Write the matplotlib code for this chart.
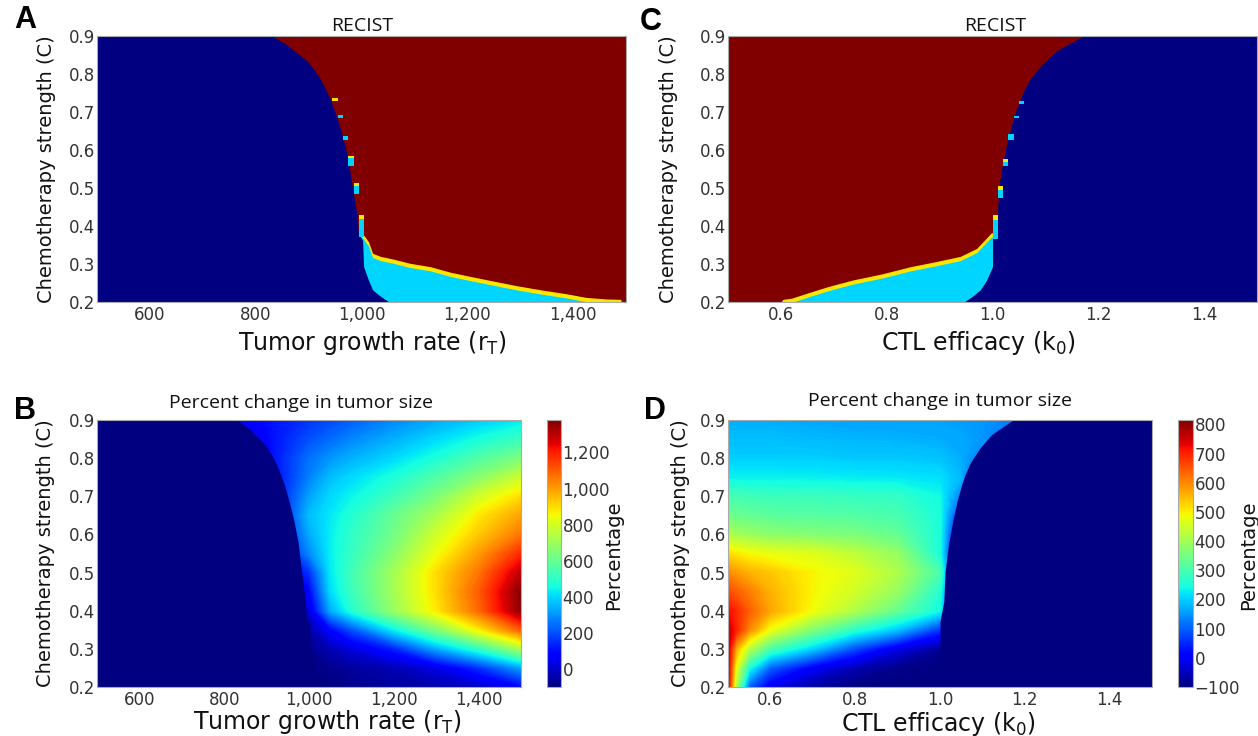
import numpy as np
import matplotlib
matplotlib.use('Agg')
import matplotlib.pyplot as plt
from matplotlib.colors import Normalize
from matplotlib.cm import ScalarMappable
from matplotlib.ticker import FuncFormatter

plt.rcParams['font.family'] = 'DejaVu Sans'
plt.rcParams['mathtext.fontset'] = 'dejavusans'

# =============================================================================
# DATA
# =============================================================================

# RECIST classes: 0 = CR, 1 = PR, 2 = SD, 3 = PD  (coloured with jet)
recist_classes = ['CR', 'PR', 'SD', 'PD']

# --- panel A: tumor growth rate r_T ---
a_r_range = [500, 1500]
c_range = [0.2, 0.9]
# edge of the CR (eliminated) region, CR for r below the edge
a_cr_c = [0.2, 0.215, 0.232, 0.258, 0.293, 0.363, 0.381, 0.433, 0.507, 0.581,
          0.643, 0.695, 0.730, 0.760, 0.787, 0.808, 0.835, 0.861, 0.878, 0.9]
a_cr_r = [1052, 1036, 1021, 1013, 1004, 1002, 994, 991, 982, 974,
          963, 951, 942, 932, 922, 912, 897, 873, 858, 831]
# upper edge of the SD band (PD above it)
a_pd_r = [995, 1002, 1013, 1021, 1036, 1060, 1091, 1130, 1169, 1207,
          1246, 1293, 1339, 1386, 1425, 1464, 1490, 1491]
a_pd_c = [0.385, 0.38, 0.359, 0.328, 0.32, 0.313, 0.302, 0.293, 0.278, 0.267,
          0.256, 0.243, 0.232, 0.222, 0.212, 0.208, 0.207, 0.2]
# isolated cells along the CR edge
a_spk_r = [945, 955, 965, 975, 975, 985, 985, 995, 995]
a_spk_c0 = [0.729, 0.685, 0.627, 0.578, 0.557, 0.505, 0.484, 0.418, 0.370]
a_spk_c1 = [0.736, 0.692, 0.638, 0.585, 0.578, 0.512, 0.505, 0.430, 0.418]
a_spk_cls = [2, 1, 1, 2, 1, 2, 1, 2, 1]

# --- panel C: CTL efficacy k_0 ---
c_k_range = [0.5, 1.5]
c_cr_c = [0.2, 0.215, 0.232, 0.258, 0.293, 0.372, 0.424, 0.503, 0.573, 0.634,
          0.686, 0.730, 0.756, 0.787, 0.826, 0.861, 0.891, 0.9]
c_cr_k = [0.946, 0.962, 0.977, 0.989, 1.0, 1.0, 1.009, 1.012, 1.020, 1.030,
          1.040, 1.051, 1.059, 1.071, 1.094, 1.121, 1.16, 1.172]
c_pd_k = [0.600, 0.604, 0.62, 0.651, 0.69, 0.736, 0.791, 0.845, 0.892, 0.939,
          0.97, 0.985, 0.997, 1.005]
c_pd_c = [0.2, 0.207, 0.21, 0.224, 0.241, 0.258, 0.274, 0.293, 0.306, 0.32,
          0.341, 0.363, 0.381, 0.385]
c_spk_k = [1.050, 1.040, 1.030, 1.020, 1.020, 1.010, 1.010, 1.000, 1.000]
c_spk_c0 = [0.722, 0.684, 0.627, 0.569, 0.557, 0.496, 0.473, 0.415, 0.367]
c_spk_c1 = [0.729, 0.690, 0.641, 0.577, 0.569, 0.506, 0.496, 0.430, 0.415]
c_spk_cls = [1, 1, 1, 2, 1, 2, 1, 2, 1]

# --- panel B: percent change, rows = C, columns = r_T ---
b_r = [500, 800, 900, 1000, 1050, 1100, 1200, 1300, 1400, 1500]
b_c = [0.2, 0.25, 0.3, 0.35, 0.4, 0.45, 0.5, 0.55, 0.6, 0.65, 0.7, 0.75, 0.8, 0.85, 0.9]
b_pct = [
    [-100, -100, -100, -100, -95, -80, -60, -40, -10, 80],
    [-100, -100, -100, -95, -80, -60, -30, 30, 150, 320],
    [-100, -100, -100, -80, -30, 20, 130, 330, 500, 720],
    [-100, -100, -100, -50, 80, 200, 430, 640, 870, 1100],
    [-100, -100, -60, 20, 330, 480, 690, 880, 1080, 1360],
    [-100, -100, -40, 80, 400, 520, 710, 900, 1100, 1370],
    [-100, -100, -20, 150, 420, 530, 710, 900, 1060, 1300],
    [-100, -80, -20, 280, 430, 510, 660, 840, 1000, 1180],
    [-100, -60, 0, 330, 430, 500, 620, 790, 930, 1060],
    [-100, -40, 20, 360, 420, 480, 600, 720, 880, 990],
    [-100, -20, 40, 320, 400, 440, 530, 640, 790, 900],
    [-100, -20, 60, 270, 360, 400, 470, 560, 660, 780],
    [-100, 0, 80, 250, 300, 340, 400, 470, 560, 640],
    [-100, 20, 90, 200, 240, 280, 340, 400, 460, 520],
    [-100, 40, 100, 160, 190, 220, 280, 330, 380, 420],
]
b_cbar_range = [-100, 1380]
b_cbar_ticks = [0, 200, 400, 600, 800, 1000, 1200]

# --- panel D: percent change, rows = C, columns = k_0 ---
d_k = [0.5, 0.52, 0.55, 0.6, 0.7, 0.8, 0.9, 1.0, 1.05, 1.1, 1.2, 1.5]
d_c = b_c
d_pct = [
    [760, 400, 100, -10, -70, -100, -100, -100, -100, -100, -100, -100],
    [760, 470, 250, 100, 0, -60, -90, -100, -100, -100, -100, -100],
    [760, 560, 420, 300, 200, 80, -20, -80, -100, -100, -100, -100],
    [760, 700, 600, 480, 360, 265, 190, 60, -100, -100, -100, -100],
    [720, 690, 640, 570, 485, 412, 330, 240, -100, -100, -100, -100],
    [660, 640, 610, 560, 495, 450, 385, 260, -100, -100, -100, -100],
    [600, 580, 560, 540, 495, 467, 412, 300, -100, -100, -100, -100],
    [520, 505, 490, 475, 467, 430, 385, 250, -100, -100, -100, -100],
    [410, 400, 390, 375, 365, 357, 330, 250, -50, -100, -100, -100],
    [340, 335, 330, 320, 315, 310, 300, 250, 30, -100, -100, -100],
    [300, 295, 290, 285, 285, 280, 275, 240, 120, -100, -100, -100],
    [230, 230, 230, 230, 228, 225, 222, 215, 180, -100, -100, -100],
    [200, 200, 200, 200, 200, 195, 195, 190, 170, 120, -100, -100],
    [185, 185, 185, 185, 180, 178, 175, 170, 165, 150, 50, -100],
    [170, 170, 170, 170, 165, 160, 160, 160, 155, 150, 120, -100],
]
d_cbar_range = [-100, 815]
d_cbar_ticks = [-100, 0, 100, 200, 300, 400, 500, 600, 700, 800]

r_ticks = [600, 800, 1000, 1200, 1400]
k_ticks = [0.6, 0.8, 1.0, 1.2, 1.4]
c_ticks = [0.2, 0.3, 0.4, 0.5, 0.6, 0.7, 0.8, 0.9]

# =============================================================================
# FIGURE
# =============================================================================

W, H = 1258, 736
fig = plt.figure(figsize=(W / 100, H / 100), dpi=100)
jet = plt.get_cmap('jet')
cls_color = [jet(i / 3) for i in range(4)]
tick_color = '#333333'
spine_color = '#aaaaaa'


def px_axes(left, top, right, bottom):
    return fig.add_axes([left / W, 1 - bottom / H, (right - left) / W, (bottom - top) / H])


def px_text(x, y, s, **kw):
    fig.text(x / W, 1 - y / H, s, ha='center', va='center', **kw)


comma_fmt = FuncFormatter(lambda v, p: f'{v:,.0f}'.replace('-', '\u2212'))
dec_fmt = FuncFormatter(lambda v, p: f'{v:.1f}')


def style(ax, xticks, xfmt, xlim):
    ax.set_xlim(*xlim)
    ax.set_ylim(*c_range)
    ax.set_xticks(xticks)
    ax.set_yticks(c_ticks)
    ax.xaxis.set_major_formatter(xfmt)
    ax.yaxis.set_major_formatter(dec_fmt)
    ax.tick_params(length=0, labelsize=12, colors=tick_color)
    ax.tick_params(axis='x', pad=3)
    ax.tick_params(axis='y', pad=1.5)
    for s in ax.spines.values():
        s.set_color(spine_color)
        s.set_linewidth(0.8)


def speckles(ax, x, c0, c1, cls, width):
    ax.bar(x, np.array(c1) - np.array(c0), width=width, bottom=c0, align='edge',
           color=[cls_color[c] for c in cls], linewidth=0, zorder=3)


band = 0.011

# ---------------- A ----------------
axA = px_axes(97, 36, 626, 302)
axA.set_facecolor(cls_color[3])
axA.fill_between(a_pd_r, c_range[0], a_pd_c, color=cls_color[2], lw=0)
axA.fill_between(a_pd_r, c_range[0], np.array(a_pd_c) - band, color=cls_color[1], lw=0)
axA.fill_betweenx(a_cr_c, a_r_range[0], a_cr_r, color=cls_color[0], lw=0)
speckles(axA, a_spk_r, a_spk_c0, a_spk_c1, a_spk_cls, 10)
style(axA, r_ticks, comma_fmt, a_r_range)

# ---------------- C ----------------
axC = px_axes(728, 36, 1257, 302)
axC.set_facecolor(cls_color[3])
axC.fill_between(c_pd_k, c_range[0], c_pd_c, color=cls_color[2], lw=0)
axC.fill_between(c_pd_k, c_range[0], np.array(c_pd_c) - band, color=cls_color[1], lw=0)
axC.fill_betweenx(c_cr_c, c_cr_k, c_k_range[1], color=cls_color[0], lw=0)
speckles(axC, c_spk_k, c_spk_c0, c_spk_c1, c_spk_cls, 0.01)
style(axC, k_ticks, dec_fmt, c_k_range)

# ---------------- B ----------------
axB = px_axes(97, 420, 521, 687)
normB = Normalize(*b_cbar_range)
axB.contourf(b_r, b_c, b_pct, levels=np.linspace(b_cbar_range[0], b_cbar_range[1], 300),
             cmap=jet, norm=normB, extend='both', antialiased=False)
axB.fill_betweenx(a_cr_c, a_r_range[0], a_cr_r, color=cls_color[0], lw=0)
style(axB, r_ticks, comma_fmt, a_r_range)

caxB = px_axes(547, 420, 561, 687)
cbB = fig.colorbar(ScalarMappable(norm=normB, cmap=jet), cax=caxB)
cbB.set_ticks(b_cbar_ticks)
cbB.ax.yaxis.set_major_formatter(comma_fmt)

# ---------------- D ----------------
axD = px_axes(728, 420, 1152, 687)
normD = Normalize(*d_cbar_range)
axD.contourf(d_k, d_c, d_pct, levels=np.linspace(d_cbar_range[0], d_cbar_range[1], 300),
             cmap=jet, norm=normD, extend='both', antialiased=False)
axD.fill_betweenx(c_cr_c, c_cr_k, c_k_range[1], color=cls_color[0], lw=0)
style(axD, k_ticks, dec_fmt, c_k_range)

caxD = px_axes(1178, 420, 1193, 687)
cbD = fig.colorbar(ScalarMappable(norm=normD, cmap=jet), cax=caxD)
cbD.set_ticks(d_cbar_ticks)
cbD.ax.yaxis.set_major_formatter(comma_fmt)

for cb in (cbB, cbD):
    cb.ax.tick_params(length=0, pad=1, labelsize=12, colors=tick_color)
    cb.outline.set_edgecolor(spine_color)
    cb.outline.set_linewidth(0.8)

# =============================================================================
# TEXT
# =============================================================================

title_kw = dict(fontsize=14, family='Open Sans', color='#111111')
px_text(362, 26, 'RECIST', **title_kw)
px_text(995, 26, 'RECIST', **title_kw)
px_text(301, 403, 'Percent change in tumor size', **title_kw)
px_text(940, 401, 'Percent change in tumor size', **title_kw)

xl_kw = dict(fontsize=17, color='#111111')
px_text(372, 343, r'Tumor growth rate (r$_\mathregular{T}$)', **xl_kw)
px_text(978, 343, r'CTL efficacy (k$_\mathregular{0}$)', **xl_kw)
px_text(327, 722, r'Tumor growth rate (r$_\mathregular{T}$)', **xl_kw)
px_text(938, 724, r'CTL efficacy (k$_\mathregular{0}$)', **xl_kw)

yl_kw = dict(fontsize=14, rotation=90, color='#111111')
px_text(47, 169, 'Chemotherapy strength (C)', **yl_kw)
px_text(668, 169, 'Chemotherapy strength (C)', **yl_kw)
px_text(46, 553, 'Chemotherapy strength (C)', **yl_kw)
px_text(680, 553, 'Chemotherapy strength (C)', **yl_kw)

px_text(614, 555, 'Percentage', **yl_kw)
px_text(1249, 555, 'Percentage', **yl_kw)

lab_kw = dict(fontsize=22, fontweight='bold', family='Liberation Sans', color='black')
px_text(25, 20, 'A', **lab_kw)
px_text(651, 22, 'C', **lab_kw)
px_text(25, 411, 'B', **lab_kw)
px_text(655, 411, 'D', **lab_kw)

fig.savefig('out.png', dpi=100, facecolor='white')
